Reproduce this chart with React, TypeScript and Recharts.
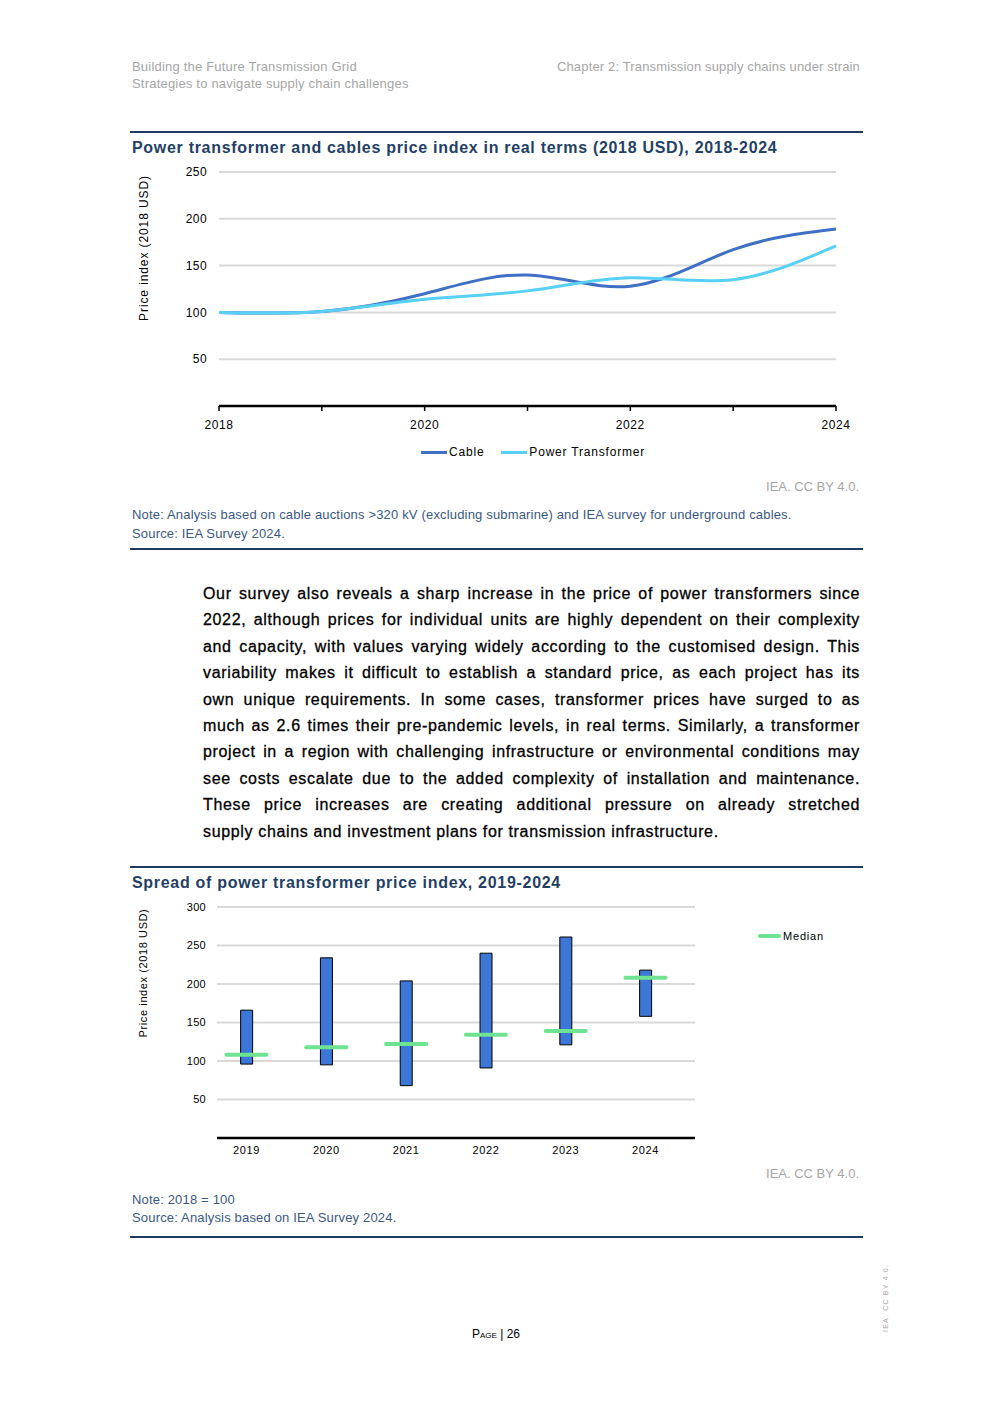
import React from "react";
import {
  Bar,
  CartesianGrid,
  ComposedChart,
  Legend,
  Line,
  LineChart,
  Scatter,
  XAxis,
  YAxis
} from "recharts";

// price index chart (2018 = 100)
const lineYears = [2018, 2019, 2020, 2021, 2022, 2023, 2024];
const cableIndex = [100, 101, 120, 140, 128, 167, 189];
const transformerIndex = [100, 101, 114, 123, 137, 135, 171];
const lineYTicks = [0, 50, 100, 150, 200, 250];

// spread chart
const spreadYears = [2019, 2020, 2021, 2022, 2023, 2024];
const spreadLow = [96, 95, 68, 91, 121, 158];
const spreadHigh = [166, 234, 204, 240, 261, 218];
const spreadMedian = [108, 118, 122, 134, 139, 208];
const spreadYTicks = [0, 50, 100, 150, 200, 250, 300];

const lineData = lineYears.map((year, i) => ({
  year,
  cable: cableIndex[i],
  transformer: transformerIndex[i]
}));

const spreadData = spreadYears.map((year, i) => ({
  year,
  range: [spreadLow[i], spreadHigh[i]],
  median: spreadMedian[i]
}));

const FONT = "'Liberation Sans', Arial, sans-serif";
const NAVY = "#243f66";
const NOTE = "#3a5882";
const GREY = "#a6a6a6";
const CABLE = "#4070c4";
const TRANSFORMER = "#58cff4";
const BAR = "#3c76d6";
const MEDIAN = "#6ee391";

const abs = (left: number, top: number, extra: React.CSSProperties = {}): React.CSSProperties => ({
  position: "absolute",
  left,
  top,
  fontFamily: FONT,
  whiteSpace: "nowrap",
  ...extra
});

function axisTitle(cx: number, cy: number, text: string, size: number, spacing: number) {
  return () => (
    <text
      x={cx}
      y={cy}
      transform={`rotate(-90 ${cx} ${cy})`}
      textAnchor="middle"
      dominantBaseline="central"
      fontSize={size}
      letterSpacing={spacing}
      fill="#000"
      fontFamily={FONT}
    >
      {text}
    </text>
  );
}

function lineLegend(props: any) {
  const items = props.payload || [];
  return (
    <div style={{ display: "flex", alignItems: "center", fontFamily: FONT, fontSize: 12, letterSpacing: 0.8, color: "#000" }}>
      {items.map((p: any, i: number) => (
        <div key={p.value} style={{ display: "flex", alignItems: "center", marginRight: i === 0 ? 17 : 0 }}>
          <span style={{ display: "inline-block", width: 26, height: 3, background: p.color, marginRight: 2 }} />
          <span>{p.value}</span>
        </div>
      ))}
    </div>
  );
}

function spreadLegend(props: any) {
  const items = (props.payload || []).filter((p: any) => p.value === "Median");
  return (
    <div style={{ fontFamily: FONT, fontSize: 11, letterSpacing: 0.8, color: "#000" }}>
      {items.map((p: any) => (
        <div key={p.value} style={{ display: "flex", alignItems: "center" }}>
          <span style={{ display: "inline-block", width: 23, height: 4, borderRadius: 2, background: MEDIAN, marginRight: 2 }} />
          <span>{p.value}</span>
        </div>
      ))}
    </div>
  );
}

function MedianMark(props: any) {
  const { cx, cy } = props;
  return <line x1={cx - 20} x2={cx + 20} y1={cy} y2={cy} stroke={MEDIAN} strokeWidth={4} strokeLinecap="round" />;
}

function PriceIndexChart() {
  return (
    <div style={{ position: "absolute", left: 130, top: 160 }}>
      <LineChart width={730} height={278} data={lineData} margin={{ top: 12, right: 24, bottom: 0, left: 0 }}>
        <CartesianGrid vertical={false} stroke="#d9d9d9" strokeWidth={2} />
        <XAxis
          type="number"
          dataKey="year"
          domain={[2018, 2024]}
          ticks={lineYears}
          interval={0}
          tickFormatter={(v: number) => (v % 2 === 0 ? String(v) : "")}
          axisLine={{ stroke: "#000", strokeWidth: 2.5 }}
          tickLine={{ stroke: "#000", strokeWidth: 1.5 }}
          tickSize={5}
          tickMargin={9}
          height={32}
          tick={{ fill: "#000", fontSize: 12, fontFamily: FONT, letterSpacing: 0.6 }}
        />
        <YAxis
          domain={[0, 250]}
          ticks={lineYTicks}
          interval={0}
          tickFormatter={(v: number) => (v === 0 ? "" : String(v))}
          width={89}
          axisLine={false}
          tickLine={false}
          tickSize={0}
          tickMargin={12}
          tick={{ fill: "#000", fontSize: 12, fontFamily: FONT, letterSpacing: 0.4 }}
          label={{ content: axisTitle(14, 88, "Price index (2018 USD)", 12, 0.9) }}
        />
        <Legend
          layout="horizontal"
          align="center"
          verticalAlign="middle"
          content={lineLegend}
          wrapperStyle={{ left: 291, top: 285, width: 300 }}
        />
        <Line type="natural" dataKey="cable" name="Cable" stroke={CABLE} strokeWidth={3} dot={false} isAnimationActive={false} />
        <Line type="natural" dataKey="transformer" name="Power Transformer" stroke={TRANSFORMER} strokeWidth={3} dot={false} isAnimationActive={false} />
      </LineChart>
    </div>
  );
}

function SpreadChart() {
  return (
    <div style={{ position: "absolute", left: 130, top: 895 }}>
      <ComposedChart width={730} height={271} data={spreadData} margin={{ top: 12, right: 165, bottom: 0, left: 0 }}>
        <CartesianGrid vertical={false} stroke="#d9d9d9" strokeWidth={2} />
        <XAxis
          type="number"
          dataKey="year"
          domain={[2018.63, 2024.62]}
          allowDataOverflow
          ticks={spreadYears}
          interval={0}
          axisLine={{ stroke: "#000", strokeWidth: 2.5 }}
          tickLine={false}
          tickSize={0}
          tickMargin={8}
          height={28}
          tick={{ fill: "#000", fontSize: 11, fontFamily: FONT, letterSpacing: 0.6 }}
        />
        <YAxis
          domain={[0, 300]}
          ticks={spreadYTicks}
          interval={0}
          tickFormatter={(v: number) => (v === 0 ? "" : String(v))}
          width={87}
          axisLine={false}
          tickLine={false}
          tickSize={0}
          tickMargin={11}
          tick={{ fill: "#000", fontSize: 11, fontFamily: FONT, letterSpacing: 0.3 }}
          label={{ content: axisTitle(13, 78, "Price index (2018 USD)", 11, 0.6) }}
        />
        <Legend
          layout="horizontal"
          align="center"
          verticalAlign="middle"
          content={spreadLegend}
          wrapperStyle={{ left: 628, top: 35, width: 100 }}
        />
        <Bar dataKey="range" name="Range" fill={BAR} stroke="#000" strokeWidth={1} barSize={12} legendType="none" isAnimationActive={false} />
        <Scatter dataKey="median" name="Median" fill={MEDIAN} shape={MedianMark} isAnimationActive={false} />
      </ComposedChart>
    </div>
  );
}

// body text, broken where the page breaks it
const paragraphLines = [
  "Our survey also reveals a sharp increase in the price of power transformers since",
  "2022, although prices for individual units are highly dependent on their complexity",
  "and capacity, with values varying widely according to the customised design. This",
  "variability makes it difficult to establish a standard price, as each project has its",
  "own unique requirements. In some cases, transformer prices have surged to as",
  "much as 2.6 times their pre-pandemic levels, in real terms. Similarly, a transformer",
  "project in a region with challenging infrastructure or environmental conditions may",
  "see costs escalate due to the added complexity of installation and maintenance.",
  "These price increases are creating additional pressure on already stretched",
  "supply chains and investment plans for transmission infrastructure."
];

export default function App() {
  const rule = (top: number): React.CSSProperties => ({
    position: "absolute",
    left: 130,
    top,
    width: 733,
    height: 2,
    background: "#203c64"
  });
  return (
    <div style={{ position: "absolute", left: 0, top: 0, width: 992, height: 1403, background: "#fff", overflow: "hidden" }}>
      <div style={abs(132, 58, { fontSize: 13, lineHeight: "17px", letterSpacing: 0.2, color: GREY })}>
        Building the Future Transmission Grid
        <br />
        Strategies to navigate supply chain challenges
      </div>
      <div style={abs(540, 58, { width: 320, textAlign: "right", fontSize: 13, lineHeight: "17px", letterSpacing: 0.15, color: GREY })}>
        Chapter 2: Transmission supply chains under strain
      </div>

      <div style={rule(131)} />
      <div style={abs(132, 139, { fontSize: 16, lineHeight: "18px", fontWeight: 700, letterSpacing: 0.7, color: NAVY })}>
        Power transformer and cables price index in real terms (2018 USD), 2018-2024
      </div>
      <PriceIndexChart />
      <div style={abs(560, 479, { width: 299, textAlign: "right", fontSize: 13, lineHeight: "16px", color: GREY })}>
        IEA. CC BY 4.0.
      </div>
      <div style={abs(132, 505, { fontSize: 13, lineHeight: "19px", letterSpacing: 0.17, color: NOTE })}>
        Note: Analysis based on cable auctions &gt;320 kV (excluding submarine) and IEA survey for underground cables.
        <br />
        Source: IEA Survey 2024.
      </div>
      <div style={rule(548)} />

      <div
        style={{
          position: "absolute",
          left: 203,
          top: 581,
          width: 657,
          fontFamily: FONT,
          fontSize: 16,
          lineHeight: "26.4px",
          letterSpacing: 0.65,
          color: "#000",
          WebkitTextStroke: "0.3px #000"
        }}
      >
        {paragraphLines.map((line, i) => (
          <div
            key={i}
            style={{
              whiteSpace: "nowrap",
              textAlign: "justify",
              textAlignLast: i === paragraphLines.length - 1 ? "left" : "justify"
            }}
          >
            {line}
          </div>
        ))}
      </div>

      <div style={rule(866)} />
      <div style={abs(132, 874, { fontSize: 16, lineHeight: "18px", fontWeight: 700, letterSpacing: 0.7, color: NAVY })}>
        Spread of power transformer price index, 2019-2024
      </div>
      <SpreadChart />
      <div style={abs(560, 1166, { width: 299, textAlign: "right", fontSize: 13, lineHeight: "16px", color: GREY })}>
        IEA. CC BY 4.0.
      </div>
      <div style={abs(132, 1191, { fontSize: 13, lineHeight: "18px", letterSpacing: 0.17, color: NOTE })}>
        Note: 2018 = 100
        <br />
        Source: Analysis based on IEA Survey 2024.
      </div>
      <div style={rule(1236)} />

      <div style={abs(446, 1326, { width: 100, textAlign: "center", fontSize: 12, lineHeight: "16px", color: "#000" })}>
        <span style={{ fontVariant: "small-caps" }}>Page</span> | 26
      </div>
      <div
        style={abs(856, 1298, {
          width: 60,
          textAlign: "center",
          fontSize: 7,
          lineHeight: "8px",
          letterSpacing: 1.2,
          color: GREY,
          transform: "rotate(-90deg)"
        })}
      >
        IEA. CC BY 4.0.
      </div>
    </div>
  );
}
